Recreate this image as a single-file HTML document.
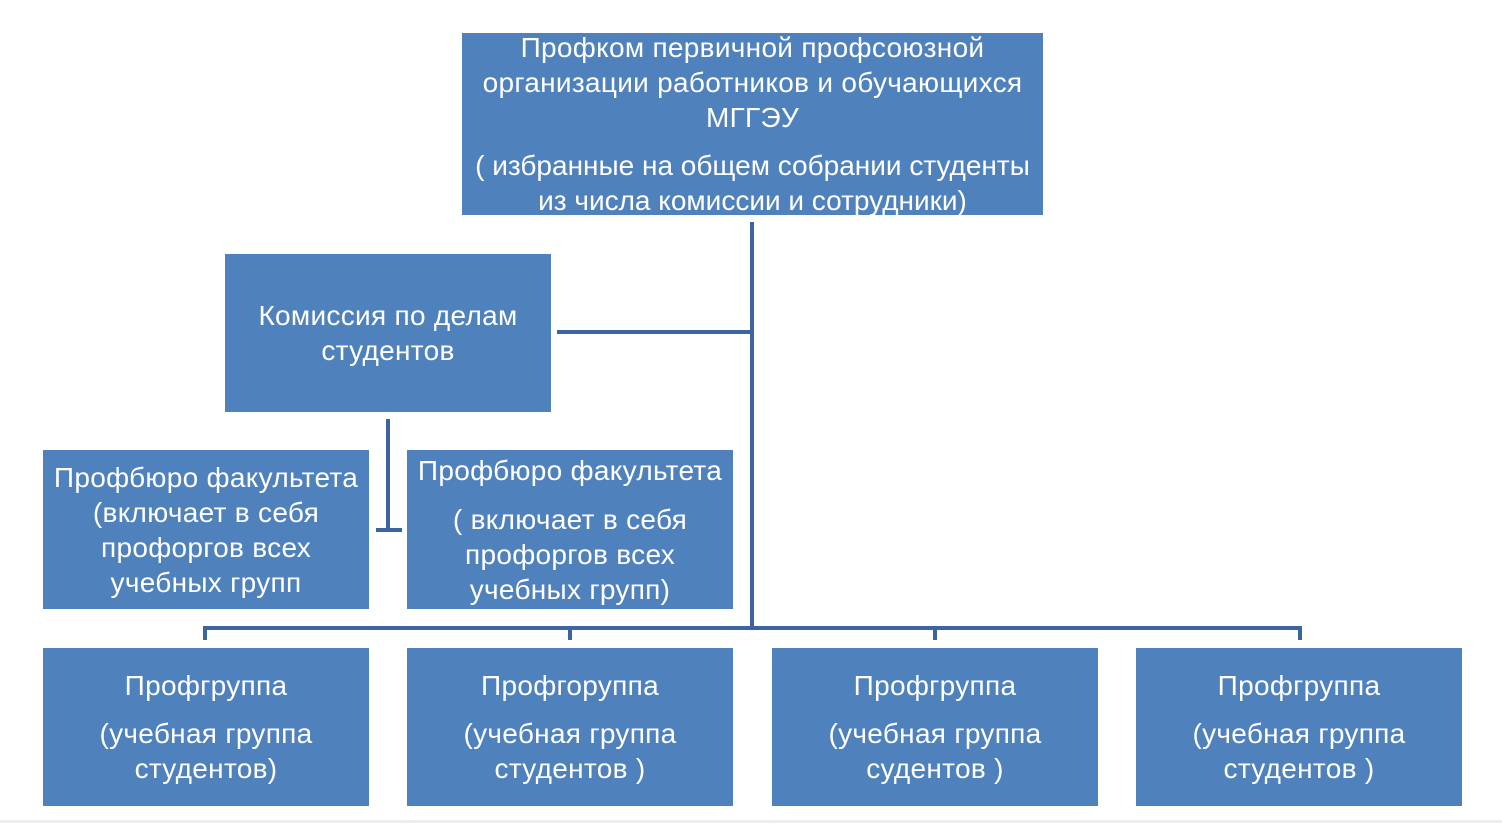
<!DOCTYPE html>
<html><head><meta charset="utf-8"><style>
html,body{margin:0;padding:0;background:#fff;width:1502px;height:823px;overflow:hidden;position:relative;font-family:"Liberation Sans","DejaVu Sans",sans-serif}
.b{position:absolute;background:#4f81bd;color:#fff;font-size:28px;letter-spacing:0.3px;line-height:35px;text-align:center;display:flex;flex-direction:column;justify-content:center;align-items:center;white-space:nowrap}
.l{position:absolute;background:#3c64a0}
p{margin:0}
</style></head><body>
<div class="b" style="left:462px;top:33px;width:581px;height:182px;justify-content:flex-start">
<p style="margin-top:-3px">Профком первичной профсоюзной<br>организации работников и обучающихся<br>МГГЭУ</p>
<p style="margin-top:13px;letter-spacing:0">( избранные на общем собрании студенты<br>из числа комиссии и сотрудники)</p></div>
<div class="b" style="left:225px;top:254px;width:326px;height:158px"><p>Комиссия по делам<br>студентов</p></div>
<div class="b" style="left:43px;top:450px;width:326px;height:159px"><p>Профбюро факультета<br>(включает в себя<br>профоргов всех<br>учебных групп</p></div>
<div class="b" style="left:407px;top:450px;width:326px;height:159px;justify-content:flex-start"><p style="margin-top:3px">Профбюро факультета</p><p style="margin-top:14px">( включает в себя<br>профоргов всех<br>учебных групп)</p></div>
<div class="b" style="left:43px;top:648px;width:326px;height:158px"><p>Профгруппа</p><p style="margin-top:13px">(учебная группа<br>студентов)</p></div>
<div class="b" style="left:407px;top:648px;width:326px;height:158px"><p>Профгоруппа</p><p style="margin-top:13px">(учебная группа<br>студентов )</p></div>
<div class="b" style="left:772px;top:648px;width:326px;height:158px"><p>Профгруппа</p><p style="margin-top:13px">(учебная группа<br>судентов )</p></div>
<div class="b" style="left:1136px;top:648px;width:326px;height:158px"><p>Профгруппа</p><p style="margin-top:13px">(учебная группа<br>студентов )</p></div>
<div class="l" style="left:750px;top:222px;width:4px;height:408px"></div>
<div class="l" style="left:557px;top:330px;width:197px;height:4px"></div>
<div class="l" style="left:386px;top:419px;width:4px;height:113px"></div>
<div class="l" style="left:376px;top:528px;width:26px;height:4px"></div>
<div class="l" style="left:203px;top:626px;width:1099px;height:4px"></div>
<div class="l" style="left:203px;top:626px;width:4px;height:14px"></div>
<div class="l" style="left:568px;top:626px;width:4px;height:14px"></div>
<div class="l" style="left:933px;top:626px;width:4px;height:14px"></div>
<div class="l" style="left:1298px;top:626px;width:4px;height:14px"></div>
<div style="position:absolute;left:0;top:820px;width:1502px;height:3px;background:#eee"></div>
</body></html>
